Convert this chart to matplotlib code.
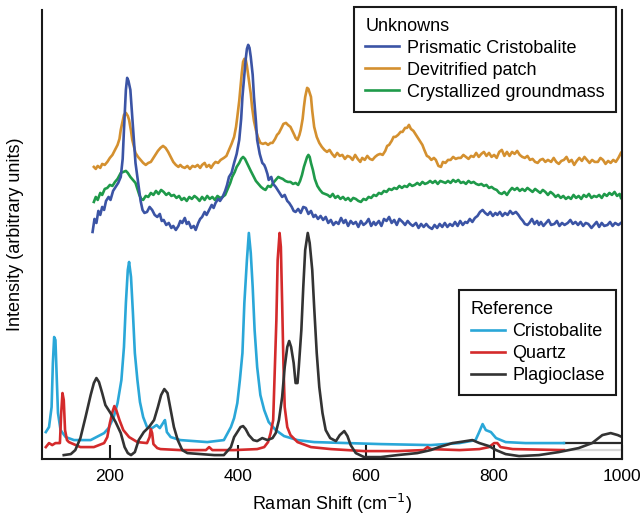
import matplotlib
matplotlib.use("Agg")
import matplotlib.pyplot as plt

plt.rcParams['font.family'] = ['Liberation Sans', 'DejaVu Sans']

# ---------------- Unknowns (upper spectra) ----------------
prism_x = [173, 176, 179, 182, 185, 188, 191, 194, 198, 201, 205, 209, 213, 217, 220, 222, 225, 227, 229, 232,
           235, 238, 240, 243, 245, 248, 251, 254, 258, 262, 266, 270, 274, 278, 281, 284, 288, 292, 296, 299,
           303, 307, 310, 313, 317, 320, 323, 327, 331, 334, 338, 341, 344, 348, 351, 355, 359, 362, 365, 369,
           372, 376, 380, 383, 386, 390, 394, 398, 402, 405, 407, 410, 412, 414, 416, 418, 420, 423, 425, 428,
           430, 434, 438, 441, 443, 446, 448, 452, 455, 459, 463, 466, 469, 473, 477, 480, 484, 487, 490, 494,
           498, 502, 506, 510, 514, 518, 521, 525, 529, 533, 537, 541, 545, 549, 553, 557, 561, 565, 568, 572,
           576, 580, 584, 588, 592, 596, 600, 604, 608, 612, 615, 620, 624, 628, 632, 636, 640, 644, 648, 652,
           657, 661, 665, 669, 673, 678, 682, 686, 690, 694, 698, 703, 707, 711, 715, 719, 723, 727, 731, 735,
           739, 743, 747, 751, 755, 758, 762, 766, 770, 774, 778, 782, 786, 790, 794, 798, 802, 805, 809, 813,
           817, 821, 825, 829, 834, 838, 841, 845, 848, 852, 855, 859, 863, 867, 870, 873, 877, 881, 885, 889,
           894, 898, 902, 906, 910, 915, 919, 923, 927, 931, 935, 939, 943, 947, 952, 956, 960, 964, 968, 972,
           977, 981, 985, 989, 994, 998]
prism_y = [227, 240, 236, 248, 244, 252, 249, 258, 262, 259, 268, 272, 276, 282, 300, 329, 369, 381, 378, 369,
           342, 315, 296, 282, 272, 258, 249, 246, 247, 252, 249, 244, 242, 245, 238, 239, 234, 236, 231, 233,
           229, 233, 238, 236, 241, 235, 237, 231, 233, 229, 236, 240, 242, 247, 244, 249, 254, 251, 256, 260,
           258, 262, 268, 274, 282, 286, 296, 305, 319, 340, 362, 385, 399, 410, 414, 411, 402, 384, 362, 338,
           319, 305, 296, 294, 291, 285, 279, 282, 275, 272, 268, 265, 262, 264, 258, 256, 252, 248, 247, 250,
           246, 252, 251, 245, 248, 242, 244, 240, 243, 239, 242, 236, 239, 234, 237, 235, 241, 236, 239, 233,
           238, 235, 237, 232, 238, 234, 236, 240, 233, 237, 234, 238, 233, 240, 238, 242, 236, 239, 234, 240,
           237, 234, 238, 235, 233, 236, 231, 235, 232, 235, 232, 230, 234, 231, 235, 232, 236, 232, 235, 233,
           237, 233, 238, 234, 237, 236, 240, 237, 241, 243, 247, 249, 246, 244, 247, 243, 246, 244, 247, 243,
           246, 244, 248, 245, 247, 244, 241, 238, 235, 234, 236, 240, 235, 238, 234, 237, 233, 236, 239, 234,
           235, 238, 233, 236, 234, 236, 239, 235, 237, 234, 237, 233, 236, 235, 231, 234, 237, 232, 236, 233,
           234, 237, 233, 236, 234, 236]

devit_x = [175, 178, 181, 185, 188, 192, 196, 200, 204, 208, 212, 215, 217, 220, 222, 225, 228, 230, 233, 235,
           238, 240, 244, 248, 252, 256, 260, 264, 268, 271, 275, 279, 283, 287, 291, 295, 299, 303, 307, 310,
           313, 317, 321, 325, 329, 333, 337, 341, 344, 348, 351, 355, 358, 362, 365, 369, 373, 378, 382, 386,
           390, 394, 397, 399, 402, 404, 406, 408, 410, 412, 414, 417, 420, 422, 425, 428, 431, 435, 439, 443,
           447, 451, 454, 458, 461, 464, 468, 471, 475, 478, 482, 485, 488, 490, 493, 496, 498, 501, 503, 505,
           508, 510, 512, 514, 516, 519, 523, 527, 531, 535, 539, 543, 547, 551, 555, 559, 563, 567, 571, 575,
           579, 583, 587, 591, 594, 598, 602, 606, 610, 614, 618, 622, 626, 630, 633, 636, 640, 643, 646, 650,
           654, 657, 661, 664, 667, 670, 674, 678, 682, 685, 688, 691, 695, 698, 702, 706, 709, 713, 717, 720,
           724, 728, 732, 736, 740, 744, 748, 752, 756, 760, 764, 768, 772, 776, 780, 784, 788, 792, 796, 800,
           804, 808, 812, 816, 820, 824, 828, 832, 836, 840, 844, 848, 852, 856, 860, 864, 868, 872, 876, 880,
           884, 889, 893, 897, 901, 905, 909, 913, 917, 921, 925, 929, 933, 937, 941, 945, 949, 953, 957, 962,
           966, 970, 974, 978, 982, 986, 990, 994, 998]
devit_y = [292, 290, 293, 291, 295, 294, 297, 301, 304, 309, 314, 320, 329, 338, 344, 346, 343, 339, 328, 319,
           311, 306, 302, 299, 296, 294, 296, 297, 301, 304, 308, 311, 313, 311, 307, 302, 297, 294, 292, 294,
           292, 291, 293, 290, 293, 292, 294, 291, 294, 296, 292, 294, 291, 295, 297, 296, 299, 301, 303, 309,
           315, 322, 332, 342, 358, 372, 386, 397, 400, 400, 393, 379, 365, 352, 338, 329, 322, 316, 315, 316,
           314, 316, 316, 320, 324, 326, 331, 335, 336, 334, 332, 328, 324, 321, 319, 324, 329, 340, 352, 362,
           371, 370, 366, 362, 348, 332, 322, 316, 312, 309, 307, 309, 305, 302, 306, 303, 304, 300, 303, 302,
           299, 304, 300, 297, 301, 299, 303, 300, 299, 302, 304, 305, 304, 308, 313, 314, 318, 322, 322, 324,
           327, 327, 331, 331, 334, 330, 328, 324, 320, 317, 314, 309, 303, 302, 299, 301, 299, 293, 292, 297,
           296, 299, 299, 302, 300, 301, 301, 304, 302, 300, 303, 302, 306, 302, 305, 307, 303, 306, 302, 304,
           301, 307, 309, 303, 307, 303, 307, 305, 308, 304, 302, 301, 303, 299, 300, 297, 296, 299, 300, 297,
           299, 297, 301, 297, 295, 298, 299, 302, 297, 299, 294, 298, 301, 298, 302, 299, 296, 299, 297, 297,
           301, 299, 295, 298, 296, 299, 297, 301, 306]

cryst_x = [175, 178, 181, 185, 188, 192, 196, 200, 204, 208, 212, 217, 221, 225, 228, 232, 236, 240, 243, 246,
           249, 252, 256, 260, 264, 268, 272, 276, 280, 284, 288, 292, 296, 300, 304, 308, 312, 316, 320, 324,
           328, 332, 336, 340, 344, 348, 352, 356, 360, 364, 368, 372, 376, 380, 384, 388, 391, 395, 398, 402,
           405, 408, 411, 414, 417, 420, 424, 428, 432, 436, 440, 443, 447, 451, 455, 459, 463, 466, 470, 474,
           478, 482, 486, 490, 494, 497, 500, 503, 506, 508, 510, 512, 514, 517, 520, 524, 528, 532, 536, 540,
           544, 548, 552, 556, 560, 564, 568, 572, 576, 580, 584, 588, 592, 596, 600, 604, 608, 612, 616, 620,
           624, 628, 632, 636, 640, 644, 648, 652, 656, 660, 664, 668, 672, 676, 680, 684, 688, 692, 696, 700,
           704, 708, 712, 716, 720, 724, 728, 732, 736, 740, 744, 748, 752, 756, 760, 764, 768, 772, 776, 780,
           784, 788, 792, 796, 800, 804, 808, 812, 816, 820, 824, 828, 832, 836, 840, 844, 848, 852, 856, 860,
           864, 868, 872, 876, 880, 884, 888, 892, 896, 900, 904, 908, 912, 916, 920, 924, 928, 932, 936, 940,
           944, 948, 952, 956, 960, 964, 968, 972, 976, 980, 984, 988, 992, 996, 998]
cryst_y = [257, 262, 259, 266, 264, 270, 271, 274, 273, 277, 280, 286, 287, 288, 286, 282, 279, 276, 270, 264,
           260, 259, 263, 262, 266, 264, 268, 265, 269, 267, 264, 266, 263, 264, 261, 263, 259, 261, 258, 262,
           260, 263, 261, 258, 262, 259, 263, 260, 262, 259, 263, 261, 262, 264, 270, 276, 282, 287, 292, 296,
           300, 302, 300, 296, 292, 288, 283, 278, 275, 272, 270, 269, 273, 272, 276, 279, 282, 281, 280, 278,
           277, 277, 275, 276, 274, 278, 284, 292, 298, 302, 304, 302, 296, 289, 280, 273, 269, 266, 265, 264,
           262, 265, 261, 263, 260, 262, 259, 261, 258, 261, 260, 258, 257, 260, 259, 262, 261, 264, 263, 266,
           265, 268, 267, 270, 269, 271, 270, 273, 271, 273, 272, 275, 273, 274, 276, 274, 277, 275, 276, 278,
           276, 278, 275, 278, 277, 276, 278, 276, 279, 277, 279, 276, 277, 275, 278, 276, 277, 275, 274, 275,
           273, 274, 271, 272, 270, 269, 266, 265, 267, 264, 268, 271, 269, 271, 268, 270, 268, 271, 269, 267,
           270, 268, 266, 269, 267, 264, 267, 265, 262, 264, 261, 263, 260, 262, 260, 264, 261, 263, 260, 264,
           262, 265, 261, 263, 262, 264, 261, 265, 263, 266, 264, 267, 263, 265, 261]

# ---------------- Reference (lower spectra) ----------------
crist_x = [100, 105, 109, 111, 113, 115, 117, 119, 123, 131, 144, 170, 191, 198, 206, 212, 218, 222, 225, 228,
           230, 233, 236, 239, 243, 247, 252, 258, 266, 273, 278, 283, 286, 289, 295, 310, 352, 378, 389, 394,
           399, 403, 407, 410, 414, 417, 420, 423, 426, 430, 435, 441, 448, 459, 472, 493, 519, 571, 623, 701,
           746, 771, 776, 782, 787, 795, 803, 818, 849, 909]
crist_y = [27, 32, 52, 96, 122, 119, 82, 46, 29, 22, 19, 19, 26, 31, 42, 56, 79, 112, 156, 189,
           197, 182, 146, 106, 79, 57, 42, 32, 31, 34, 31, 36, 39, 27, 22, 19, 17, 19, 32, 41,
           56, 79, 106, 156, 199, 226, 206, 172, 129, 92, 64, 49, 37, 29, 23, 19, 17, 16, 15, 14,
           16, 19, 26, 35, 29, 27, 21, 17, 16, 16]

quartz_x = [100, 105, 110, 115, 120, 122, 124, 126, 128, 130, 133, 136, 154, 175, 191, 196, 200, 204, 207, 210,
            215, 221, 230, 243, 258, 262, 264, 266, 268, 274, 279, 310, 350, 355, 360, 394, 430, 441, 447, 451,
            455, 457, 460, 462, 465, 467, 469, 471, 473, 477, 482, 493, 514, 545, 597, 649, 690, 696, 701, 746,
            777, 792, 800, 805, 810, 829, 909]
quartz_y = [12, 16, 14, 16, 16, 16, 46, 66, 59, 29, 19, 17, 12, 12, 16, 22, 36, 47, 53, 49,
            39, 29, 22, 17, 16, 22, 30, 26, 15, 11, 10, 9, 9, 12, 9, 9, 10, 12, 17, 26,
            39, 79, 139, 199, 226, 212, 156, 96, 52, 32, 24, 17, 12, 10, 8, 8, 9, 12, 10, 9,
            10, 12, 16, 16, 12, 10, 9]

plag_x = [128, 139, 146, 154, 162, 170, 175, 179, 183, 188, 193, 201, 209, 217, 223, 228, 233, 239, 245, 253,
          261, 269, 275, 280, 285, 290, 295, 300, 306, 313, 321, 342, 363, 378, 389, 394, 399, 404, 408, 412,
          417, 424, 430, 438, 446, 454, 459, 464, 469, 473, 477, 480, 483, 487, 490, 493, 495, 499, 502, 505,
          509, 512, 516, 519, 523, 527, 532, 537, 544, 553, 559, 566, 571, 576, 584, 597, 623, 649, 680, 701,
          714, 735, 746, 766, 777, 792, 803, 818, 839, 870, 901, 932, 953, 969, 982, 993, 1000]
plag_y = [4, 5, 9, 21, 42, 64, 76, 81, 77, 66, 54, 46, 37, 26, 12, 6, 4, 7, 19, 27,
          32, 39, 52, 64, 70, 66, 49, 32, 19, 9, 6, 5, 4, 4, 12, 22, 27, 32, 33, 30,
          24, 19, 18, 21, 19, 21, 26, 39, 62, 92, 112, 118, 112, 96, 76, 76, 92, 129, 172, 209,
          226, 216, 189, 152, 106, 72, 46, 29, 21, 18, 24, 28, 23, 14, 6, 2, 2, 4, 6, 9,
          12, 16, 17, 19, 16, 13, 9, 5, 3, 4, 7, 11, 16, 24, 26, 24, 22]

# trailing baseline segments drawn past the reference traces
tail_x = [909, 1000]
crist_tail_y = [16, 16]
quartz_tail_y = [9, 9]

unknown_labels = ["Prismatic Cristobalite", "Devitrified patch", "Crystallized groundmass"]
reference_labels = ["Cristobalite", "Quartz", "Plagioclase"]

c_blue = "#3b54a5"
c_orange = "#d4902f"
c_green = "#1f9a4a"
c_cyan = "#2aa7d8"
c_red = "#d42a2b"
c_black = "#333333"

fig = plt.figure(figsize=(6.4, 5.17), dpi=100)
ax = fig.add_axes([0.0656, 0.112, 0.9066, 0.869])

lw = 1.9
ax.plot(tail_x, crist_tail_y, color="#2a2a2a", lw=1.6)
ax.plot(tail_x, quartz_tail_y, color="#d8d8d8", lw=1.6)
l4, = ax.plot(crist_x, crist_y, color=c_cyan, lw=lw)
l5, = ax.plot(quartz_x, quartz_y, color=c_red, lw=lw)
l6, = ax.plot(plag_x, plag_y, color=c_black, lw=lw)
l2, = ax.plot(devit_x, devit_y, color=c_orange, lw=lw)
l3, = ax.plot(cryst_x, cryst_y, color=c_green, lw=lw)
l1, = ax.plot(prism_x, prism_y, color=c_blue, lw=lw)

ax.set_xlim(94, 1000)
ax.set_ylim(0, 449)
ax.set_xticks([200, 400, 600, 800, 1000])
ax.set_yticks([])
ax.spines['top'].set_visible(False)
for s in ['left', 'right', 'bottom']:
    ax.spines[s].set_linewidth(1.5)
    ax.spines[s].set_color("#1a1a1a")
ax.tick_params(axis='x', direction='in', length=10, width=1.5, labelsize=12.5, pad=7, color="#1a1a1a")

ax.set_xlabel("Raman Shift (cm$^{-1}$)", fontsize=13, labelpad=6)
ax.set_ylabel("Intensity (arbitrary units)", fontsize=13)
ax.yaxis.set_label_coords(-0.031, 0.5)

leg_kw = dict(fontsize=13, title_fontsize=13, frameon=True, fancybox=False,
              edgecolor="#1a1a1a", framealpha=1, handlelength=1.88, handletextpad=0.43,
              labelspacing=0.27, borderpad=0.62, borderaxespad=0, alignment='left', loc='upper right')
leg1 = ax.legend([l1, l2, l3], unknown_labels, title="Unknowns",
                 bbox_to_anchor=(0.9625, 0.987), bbox_transform=fig.transFigure, **leg_kw)
leg1.get_frame().set_linewidth(1.5)
ax.add_artist(leg1)
leg2 = ax.legend([l4, l5, l6], reference_labels, title="Reference",
                 bbox_to_anchor=(0.9625, 0.439), bbox_transform=fig.transFigure, **leg_kw)
leg2.get_frame().set_linewidth(1.5)

fig.savefig("out.png", dpi=100)
